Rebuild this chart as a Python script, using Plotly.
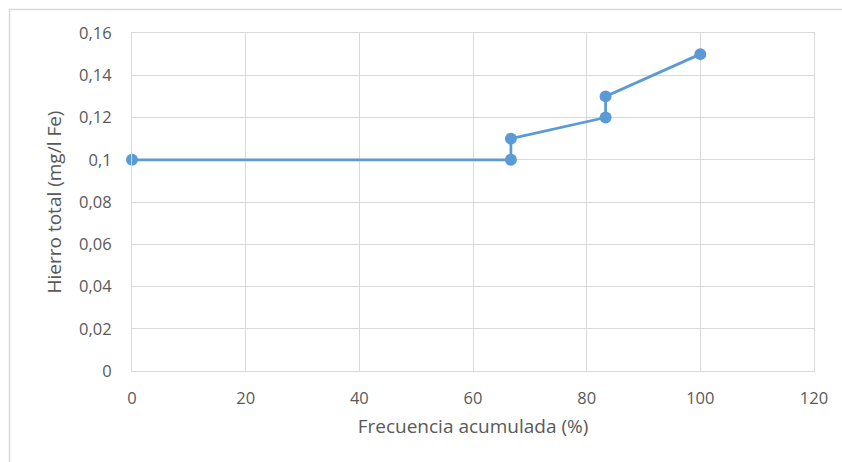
import plotly.graph_objects as go

# Cumulative frequency (%) vs total iron (mg/l Fe)
frecuencia = [0, 66.67, 66.67, 83.33, 83.33, 100]
hierro = [0.10, 0.10, 0.11, 0.12, 0.13, 0.15]

x_ticks = [0, 20, 40, 60, 80, 100, 120]
y_ticks = [0, 0.02, 0.04, 0.06, 0.08, 0.10, 0.12, 0.14, 0.16]

blue = "#5B9BD5"
grid = "#D9D9D9"
text = "#595959"
font_family = "Open Sans, Liberation Sans, sans-serif"

fig = go.Figure(
    go.Scatter(
        x=frecuencia,
        y=hierro,
        mode="lines+markers",
        line=dict(color=blue, width=2.75),
        marker=dict(color=blue, size=12),
        cliponaxis=False,
        showlegend=False,
    )
)

fig.update_xaxes(
    range=[0, 120],
    tickvals=x_ticks,
    showgrid=True,
    gridcolor=grid,
    gridwidth=1,
    zeroline=False,
    showline=True,
    linecolor=grid,
    linewidth=1,
    mirror=True,
    ticks="",
    ticklabelstandoff=12,
    tickfont=dict(family=font_family, size=16.5, color=text),
    title=dict(text="Frecuencia acumulada (%)",
               font=dict(family=font_family, size=19, color=text),
               standoff=11),
)
fig.update_yaxes(
    range=[0, 0.16],
    tickvals=y_ticks,
    showgrid=True,
    gridcolor=grid,
    gridwidth=1,
    zeroline=False,
    showline=True,
    linecolor=grid,
    linewidth=1,
    mirror=True,
    ticks="",
    ticklabelstandoff=16,
    tickfont=dict(family=font_family, size=16.5, color=text),
    title=dict(text="Hierro total (mg/l Fe)",
               font=dict(family=font_family, size=19, color=text),
               standoff=12),
)

# Outer chart frame
fig.add_shape(
    type="rect", xref="paper", yref="paper",
    x0=-0.1796, y0=-0.3, x1=1.05, y1=1.0695,
    line=dict(color=grid, width=1.5),
    fillcolor="rgba(0,0,0,0)",
    layer="below",
)

fig.update_layout(
    width=842,
    height=462,
    margin=dict(l=132, r=28, t=33, b=91),
    paper_bgcolor="white",
    plot_bgcolor="white",
    separators=",.",
)

fig.write_html("out.html")
